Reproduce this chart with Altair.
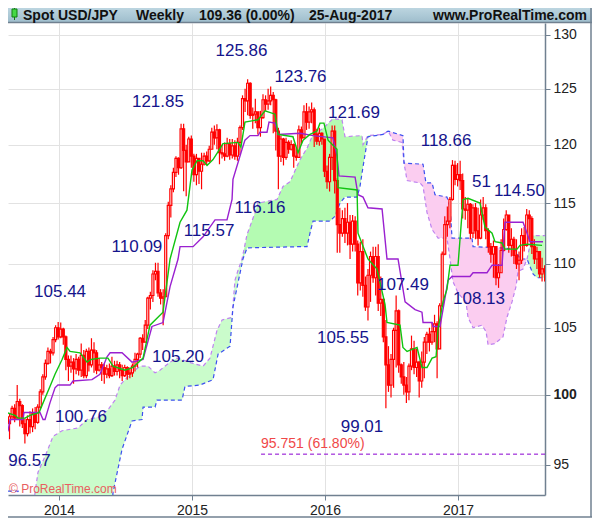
import altair as alt
import numpy as np
import pandas as pd

close = [98.4,99.0,98.3,99.5,99.2,97.9,97.2,98.2,97.7,98.6,
98.0,99.1,100.2,101.3,102.3,103.2,103.1,104.1,105.0,104.3,
104.9,104.3,102.6,102.1,102.4,101.9,102.6,101.8,102.9,101.4,
103.2,102.2,103.3,103.1,101.8,102.2,102.0,101.5,101.9,101.4,
102.1,101.7,102.2,101.8,101.4,102.0,101.5,101.6,102.1,102.6,
103.0,104.2,103.9,105.2,107.3,107.5,109.2,109.4,107.7,107.3,
107.4,112.3,114.8,116.2,117.6,118.8,118.0,121.4,119.5,118.5,
120.5,119.0,117.4,118.8,117.7,118.3,119.0,118.6,119.6,121.1,
120.6,121.3,119.3,119.2,119.0,120.1,119.1,119.9,119.0,120.2,
121.5,124.1,123.9,125.5,122.6,122.7,122.9,121.5,122.4,124.0,
123.6,123.9,124.4,124.0,121.2,119.0,120.5,118.9,120.2,119.6,
120.0,119.0,118.9,121.3,120.6,122.9,122.0,122.9,123.1,120.9,
120.3,121.0,120.5,117.7,116.8,118.9,121.2,116.9,113.2,112.5,
113.7,112.5,113.4,111.6,113.5,111.6,108.5,111.0,108.3,106.6,
109.1,110.6,108.9,110.6,106.9,107.2,104.3,102.2,100.7,102.6,
104.8,106.3,102.2,101.3,100.7,100.2,102.1,103.4,102.0,102.4,
101.0,102.4,103.9,104.5,103.9,104.7,105.3,103.4,106.7,110.8,
113.2,113.5,115.3,118.2,117.0,117.4,116.9,114.5,114.4,114.9,
112.5,114.6,112.7,112.1,114.0,114.6,112.7,111.4,110.8,111.4,
108.9,109.3,111.1,112.8,114.0,111.5,112.0,110.7,110.0,110.3,
112.3,111.5,114.0,113.7,111.4,110.4,111.0,109.2,109.6,109.36]

high = [98.6,99.2,99.3,100.7,99.7,99.3,98.3,98.5,98.8,99.0,
99.1,99.3,100.4,101.5,102.6,103.5,103.4,104.3,105.2,105.44,
105.4,105.0,104.4,102.9,102.9,102.7,103.0,102.8,103.8,103.3,
103.4,103.5,104.2,103.9,103.3,102.7,102.4,102.3,102.2,102.3,
102.8,102.5,102.5,102.4,102.2,102.2,102.1,102.0,102.3,103.1,
103.1,104.3,104.5,105.6,107.4,107.8,109.5,110.1,110.09,108.0,
108.0,112.5,115.1,116.5,118.0,119.0,118.9,121.85,121.85,120.0,
120.7,120.8,119.2,119.2,118.8,119.3,119.3,119.4,119.9,121.5,
121.7,121.8,121.4,120.0,120.2,120.6,120.5,120.5,120.4,120.6,
121.7,124.4,125.0,125.86,125.6,123.3,124.1,122.8,123.0,124.5,
124.4,125.0,125.2,124.7,124.1,121.5,120.8,120.6,120.6,120.4,
120.4,120.1,119.7,121.7,121.6,123.5,123.7,123.4,123.76,123.3,
121.4,121.5,121.1,120.4,118.2,119.2,121.69,121.69,117.1,114.6,
114.4,114.6,115.0,114.0,114.0,113.9,111.9,111.8,112.0,109.0,
109.6,111.0,111.4,111.4,111.6,109.0,107.0,105.6,103.6,103.0,
105.0,107.49,106.4,102.3,102.4,101.3,102.3,104.4,104.0,103.4,
102.5,103.2,104.3,104.7,105.0,105.4,106.0,105.5,106.9,111.0,
113.9,114.7,115.5,118.66,118.6,118.4,118.6,117.5,115.5,115.4,
115.0,114.9,115.0,114.6,115.3,115.5,114.9,112.9,111.7,111.9,
111.3,110.0,112.0,113.7,114.4,114.0,112.9,112.2,112.0,111.0,
112.9,113.0,114.5,114.4,113.9,112.0,111.4,110.8,110.5,109.9]

low = [96.8,98.2,98.0,98.3,97.7,97.6,96.5,97.0,97.2,97.3,
97.5,97.9,99.0,100.0,101.1,102.2,102.3,102.9,103.9,104.1,
104.2,103.7,101.8,101.0,101.6,100.8,101.5,101.4,101.3,101.2,
101.2,101.7,102.0,101.6,101.5,101.7,101.0,100.8,101.2,101.2,
101.3,101.4,101.4,101.2,101.0,101.3,101.1,101.2,101.3,101.7,
102.0,102.7,103.3,103.9,104.9,106.4,107.0,108.7,107.4,106.8,
105.2,107.4,112.0,113.8,115.9,117.2,117.4,117.9,116.0,115.57,
118.5,118.0,116.8,116.5,116.6,116.16,118.2,118.3,118.5,119.6,
120.0,119.6,118.3,118.8,118.6,118.9,118.7,118.8,118.7,118.6,
119.1,121.3,122.9,122.6,122.3,121.4,121.9,120.9,120.7,122.3,
123.0,123.1,123.5,121.0,119.5,116.16,118.5,118.2,118.7,119.2,
119.5,118.0,118.6,119.1,120.0,120.9,121.3,121.4,121.9,119.8,
120.0,119.9,120.0,117.2,116.2,115.97,117.8,115.8,110.9,110.9,
112.2,111.7,111.5,110.4,111.0,111.0,107.5,107.9,107.4,106.3,
105.55,107.0,108.5,107.5,106.3,105.9,103.9,99.01,100.2,99.8,
100.5,102.0,101.6,100.8,100.0,99.4,99.6,101.8,101.5,101.3,
99.8,100.5,101.2,103.0,103.2,103.7,103.9,101.2,103.4,106.6,
110.7,112.2,112.9,115.2,116.5,116.4,116.1,113.7,113.6,112.9,
112.0,112.1,112.0,111.5,112.0,113.6,112.0,110.9,110.1,108.9,
108.3,108.1,109.4,111.0,112.7,110.9,110.6,110.0,109.6,108.7,
110.0,111.0,111.4,111.8,110.8,110.0,109.6,108.9,108.6,108.6]

tenkan_x = [2013.564,2013.609,2013.669,2013.692,2013.744,2013.782,2013.850,2013.880,2013.932,2013.970,
2014.023,2014.060,2014.083,2014.158,2014.211,2014.241,2014.308,2014.368,2014.406,2014.496,2014.556,
2014.632,2014.684,2014.782,2014.835,2014.910,2014.962,2015.000,2015.038,2015.083,2015.113,2015.158,
2015.196,2015.233,2015.346,2015.368,2015.398,2015.496,2015.549,2015.624,2015.647,2015.759,2015.797,
2015.835,2015.887,2015.940,2015.962,2015.992,2016.023,2016.090,2016.098,2016.241,2016.248,2016.323,
2016.391,2016.451,2016.466,2016.564,2016.586,2016.617,2016.692,2016.729,2016.767,2016.805,2016.835,
2016.850,2016.887,2016.917,2016.940,2017.000,2017.038,2017.075,2017.165,2017.203,2017.256,2017.278,
2017.331,2017.353,2017.444,2017.466,2017.519,2017.632]
tenkan_y = [97.6,98.7,98.5,98.3,98.3,98.5,98.7,99.4,100.6,101.5,
102.6,103.5,103.2,103.1,102.4,102.6,102.7,102.7,102.1,101.8,102.0,
102.7,105.2,106.2,110.4,113.4,114.4,117.8,118.6,118.6,118.2,118.7,
119.4,120.1,120.2,119.8,122.0,122.2,123.0,122.7,120.9,120.7,119.3,
120.4,120.9,121.2,121.9,121.9,120.4,119.6,116.3,116.1,112.5,110.4,
109.6,106.8,105.4,105.2,103.5,103.2,103.5,102.0,102.0,102.7,102.8,
104.9,107.0,108.0,109.9,109.9,115.3,115.4,115.0,113.0,112.5,111.8,
111.7,111.2,111.2,111.5,111.6,111.5]

kijun_x = [2013.564,2013.617,2013.632,2013.729,2013.737,2013.857,2013.880,2013.895,2013.932,2013.970,2013.992,
2014.083,2014.105,2014.248,2014.308,2014.361,2014.384,2014.474,2014.549,2014.632,2014.699,2014.782,2014.835,
2014.895,2014.910,2015.008,2015.083,2015.173,2015.263,2015.301,2015.308,2015.376,2015.398,2015.436,2015.496,
2015.511,2015.564,2015.579,2015.624,2015.647,2015.812,2015.910,2016.060,2016.090,2016.105,2016.226,2016.248,
2016.286,2016.323,2016.429,2016.466,2016.549,2016.602,2016.677,2016.729,2016.737,2016.805,2016.812,2016.865,
2016.925,2016.955,2017.090,2017.113,2017.218,2017.256,2017.331,2017.353,2017.489,2017.519,2017.541,2017.639]
kijun_y = [97.4,97.4,98.2,98.2,98.7,98.7,98.2,98.2,99.4,100.5,100.7,
100.7,101.0,101.1,101.5,102.8,103.1,103.1,102.4,102.6,105.1,105.4,108.2,
110.4,111.4,111.4,112.2,113.6,113.6,115.3,117.0,119.6,120.4,120.8,120.8,
121.1,121.1,122.0,121.9,120.9,121.0,120.8,120.6,119.0,117.3,117.2,115.7,
115.5,114.6,114.5,110.4,110.4,107.0,106.4,106.2,105.4,105.4,105.1,105.1,
108.7,109.0,109.0,109.3,109.3,109.9,109.9,113.4,113.4,112.5,111.8,111.8]

span_a_x = [2013.617,2013.805,2013.820,2013.842,2013.895,2013.955,2014.023,2014.143,2014.211,2014.308,2014.368,
2014.421,2014.459,2014.534,2014.609,2014.669,2014.722,2014.759,2014.835,2014.887,2015.008,2015.083,2015.135,
2015.188,2015.226,2015.301,2015.323,2015.346,2015.376,2015.414,2015.474,2015.496,2015.639,2015.684,2015.737,
2015.812,2015.865,2015.902,2016.000,2016.060,2016.128,2016.150,2016.278,2016.286,2016.323,2016.436,2016.474,
2016.511,2016.579,2016.594,2016.617,2016.714,2016.737,2016.767,2016.805,2016.850,2016.917,2016.940,2016.962,
2017.000,2017.060,2017.075,2017.113,2017.180,2017.211,2017.226,2017.278,2017.338,2017.368,2017.406,2017.436,
2017.451,2017.489,2017.519,2017.556,2017.654]
span_a_y = [92.0,92.0,93.1,94.5,95.6,97.0,97.4,97.6,98.2,98.4,98.9,
99.6,100.7,101.5,102.1,102.1,101.6,101.8,102.4,102.7,102.3,102.1,102.7,
104.8,105.6,105.8,108.7,109.5,110.4,112.4,114.2,115.0,115.3,116.4,116.8,
118.7,119.7,120.7,121.6,122.3,122.2,120.7,120.8,120.0,120.8,120.9,121.2,
120.4,120.2,118.4,116.9,116.7,116.4,114.2,112.8,112.1,112.1,110.4,108.6,
107.7,107.0,105.8,105.0,105.2,104.7,103.7,103.8,104.3,105.8,107.0,108.2,
109.4,109.6,110.4,112.3,112.3]

span_b_x = [2013.617,2013.692,2013.707,2014.398,2014.406,2014.474,2014.519,2014.549,2014.624,2014.632,2014.722,
2014.737,2014.925,2014.947,2015.060,2015.158,2015.196,2015.286,2015.308,2015.338,2015.383,2015.414,2015.812,
2015.865,2015.887,2015.910,2016.038,2016.075,2016.113,2016.150,2016.241,2016.263,2016.286,2016.323,2016.436,
2016.474,2016.586,2016.594,2016.737,2016.759,2016.805,2016.827,2016.917,2016.940,2016.955,2017.105,2017.113,
2017.316,2017.429,2017.466,2017.519,2017.564,2017.594,2017.654]
span_b_y = [93.2,93.2,92.0,92.0,93.1,96.1,97.3,98.1,98.2,99.1,99.1,
99.6,99.6,100.6,100.7,101.1,103.0,103.6,106.6,108.1,110.4,111.3,111.4,
111.4,112.5,113.5,113.5,113.9,115.0,115.5,115.5,116.4,118.1,120.7,120.9,
121.2,120.8,118.4,118.3,116.7,116.7,115.7,115.5,114.7,112.1,112.1,111.4,
111.3,111.2,110.4,110.4,109.2,108.9,108.9]

label_text = ["125.86","123.76","121.85","121.69","118.66","116.16","115.57","114.50","51",
              "110.09","105.44","107.49","108.13","105.55","105.20","100.76","96.57","99.01"]
label_x = [2015.372,2015.816,2014.744,2016.218,2016.910,2015.511,2015.128,2017.462,2017.177,
           2014.586,2014.008,2016.586,2017.158,2016.135,2014.895,2014.165,2013.778,2016.278]
label_y = [128.5,126.1,123.8,122.8,120.3,114.6,112.7,116.0,116.8,
           111.4,107.8,108.3,107.2,104.2,102.8,98.4,95.3,97.7]

fib_level = 95.751
fib_text = "95.751 (61.80%)"
fib_x0 = 2015.519
x_ticks = [2014, 2015, 2016, 2017]
y_ticks = [95, 100, 105, 110, 115, 120, 125, 130]
header_text = ["Spot USD/JPY", "Weekly", "109.36 (0.00%)", "25-Aug-2017", "www.ProRealTime.com"]
header_px = [15, 128, 191, 301, 425]

FONT = "Liberation Sans"
year = 2013.628 + np.arange(len(close)) * 0.01925
opens = [close[0] - 0.5] + close[:-1]
candles = pd.DataFrame({"x": year, "o": opens, "c": close, "h": high, "l": low})
candles["up"] = candles.c >= candles.o

xs = alt.Scale(domain=[2013.6165, 2017.654], nice=False, zero=False, padding=0)
ys = alt.Scale(type="log", domain=[92.94, 131.14], nice=False, zero=False)
x_axis = alt.Axis(
    values=x_ticks, format="d", grid=True, gridColor="#e2e2e2", domainColor="#708090", domainWidth=1.5,
    tickColor="#708090", tickSize=5, labelFont=FONT, labelFontSize=14, labelColor="#222", labelPadding=3,
    labelFlush=False, labelOverlap=False, title=None)
y_axis = alt.Axis(
    orient="right", values=y_ticks, format="d", grid=True,
    gridColor=alt.condition("datum.value == 100", alt.value("#c8c8c8"), alt.value("#e2e2e2")),
    domainColor="#708090", domainWidth=1.5, tickColor="#708090", tickSize=5, labelFont=FONT, labelFontSize=14,
    labelColor="#222", labelPadding=3, labelOverlap=False, title=None,
    labelFontWeight=alt.condition("datum.value == 100", alt.value("bold"), alt.value("normal")))
X = lambda f: alt.X(f, type="quantitative", scale=xs, axis=x_axis)
Y = lambda f: alt.Y(f, type="quantitative", scale=ys, axis=y_axis)

# cloud polygons share the union of both spans' x positions
grid_x = np.unique(np.array(span_a_x + span_b_x))
a_on = np.interp(grid_x, span_a_x, span_a_y)
b_on = np.interp(grid_x, span_b_x, span_b_y)
cloud = pd.DataFrame({"x": grid_x, "a": a_on, "b": b_on})
START, SHADE, CROSS1, CROSS2 = 2013.805, 2015.376, 2016.474, 2017.519
green_light = cloud[(cloud.x >= START) & (cloud.x <= SHADE)]
green_deep = cloud[(cloud.x >= SHADE) & (cloud.x <= CROSS1)]
green_end = cloud[cloud.x >= CROSS2]
pink = cloud[(cloud.x >= CROSS1) & (cloud.x <= CROSS2)]


def area(frame, colour):
    return alt.Chart(frame).mark_area(color=colour, clip=True, opacity=1).encode(x=X("x"), y=Y("a"), y2="b")


df_a = pd.DataFrame({"x": span_a_x, "y": span_a_y})
df_b = pd.DataFrame({"x": span_b_x, "y": span_b_y})
line_a = alt.Chart(df_a[df_a.x >= START]).mark_line(color="#be82f0", strokeWidth=1.2, strokeDash=[4, 3], clip=True).encode(x=X("x"), y=Y("y"))
line_b = alt.Chart(df_b).mark_line(color="#3c50f0", strokeWidth=1.2, strokeDash=[4, 3], clip=True).encode(x=X("x"), y=Y("y"))

wicks = alt.Chart(candles).mark_rule(color="#ff0000", strokeWidth=1.2, clip=True).encode(x=X("x"), y=Y("h"), y2="l")
bodies = alt.Chart(candles).mark_bar(size=2, stroke="#ff0000", strokeWidth=1.2, clip=True).encode(
    x=X("x"), y=Y("o"), y2="c",
    fill=alt.condition("datum.up", alt.value("#ffffff"), alt.value("#ff0000")))

kijun = alt.Chart(pd.DataFrame({"x": kijun_x, "y": kijun_y})).mark_line(color="#9a20d0", strokeWidth=1.4, clip=True).encode(x=X("x"), y=Y("y"))
tenkan = alt.Chart(pd.DataFrame({"x": tenkan_x, "y": tenkan_y})).mark_line(color="#10c410", strokeWidth=1.4, clip=True).encode(x=X("x"), y=Y("y"))

fib_line = alt.Chart(pd.DataFrame({"x": [fib_x0], "x2": [2017.654], "y": [fib_level]})).mark_rule(
    color="#8a00d0", strokeWidth=1, strokeDash=[4, 3]).encode(x=X("x"), x2="x2", y=Y("y"))
fib_label = alt.Chart(pd.DataFrame({"x": [fib_x0], "y": [fib_level], "t": [fib_text]})).mark_text(
    align="left", baseline="bottom", dy=-3, font=FONT, fontSize=14, color="#f04848").encode(x=X("x"), y=Y("y"), text="t:N")

labels = alt.Chart(pd.DataFrame({"x": label_x, "y": label_y, "t": label_text})).mark_text(
    font=FONT, fontSize=17, color="#14148c", align="center", baseline="middle").encode(x=X("x"), y=Y("y"), text="t:N")

one = pd.DataFrame({"a": [0]})
watermark = alt.Chart(one).mark_text(text="\u00a9 ProRealTime.com", font=FONT, fontSize=12, color="#e86060",
    align="left", baseline="middle", dx=1).encode(x=alt.value(0), y=alt.value(466))

header_fill = alt.Gradient(gradient="linear", x1=0, x2=0, y1=0, y2=1,
    stops=[alt.GradientStop(color="#bcd5e0", offset=0), alt.GradientStop(color="#9fbecd", offset=1)])
header = alt.Chart(one).mark_rect(fill=header_fill).encode(
    x=alt.value(0), x2=alt.value(584), y=alt.value(-15), y2=alt.value(-1))
header_rule = alt.Chart(one).mark_rule(color="#708090", strokeWidth=1.5).encode(
    x=alt.value(0), x2=alt.value(584), y=alt.value(-0.5))
header_texts = [
    alt.Chart(one).mark_text(text=t, font=FONT, fontSize=14, fontWeight="bold", color="#111",
                             align="left", baseline="middle").encode(x=alt.value(p), y=alt.value(-7.5))
    for t, p in zip(header_text, header_px)
]
icon_wick = alt.Chart(one).mark_rule(color="#108010", strokeWidth=1).encode(x=alt.value(6.5), y=alt.value(-15), y2=alt.value(-3))
icon_body = alt.Chart(one).mark_rect(fill="#46d846", stroke="#108010", strokeWidth=1).encode(
    x=alt.value(4), x2=alt.value(9), y=alt.value(-14), y2=alt.value(-6))

frame_r = alt.Chart(one).mark_rule(color="#708090", strokeWidth=1.5).encode(
    x=alt.value(583), y=alt.value(-15), y2=alt.value(494))
frame_b = alt.Chart(one).mark_rule(color="#708090", strokeWidth=1.5).encode(
    x=alt.value(0), x2=alt.value(584), y=alt.value(494))

chart = alt.layer(
    area(green_light, "#cafccb"), area(green_deep, "#b4fbb2"), area(green_end, "#c2fcc0"), area(pink, "#fbcdf0"),
    line_a, line_b, wicks, bodies, kijun, tenkan,
    fib_line, fib_label, labels, watermark, header, header_rule, *header_texts, icon_wick, icon_body, frame_r, frame_b,
).properties(
    width=537, height=472,
    padding={"left": 0, "top": 15, "right": 47, "bottom": 24},
    autosize=alt.AutoSizeParams(type="none"),
    background="#ffffff",
).configure_view(stroke=None)

assert len(close) == len(high) == len(low)
chart.save("out.html", embed_options={"renderer": "svg", "actions": False})
